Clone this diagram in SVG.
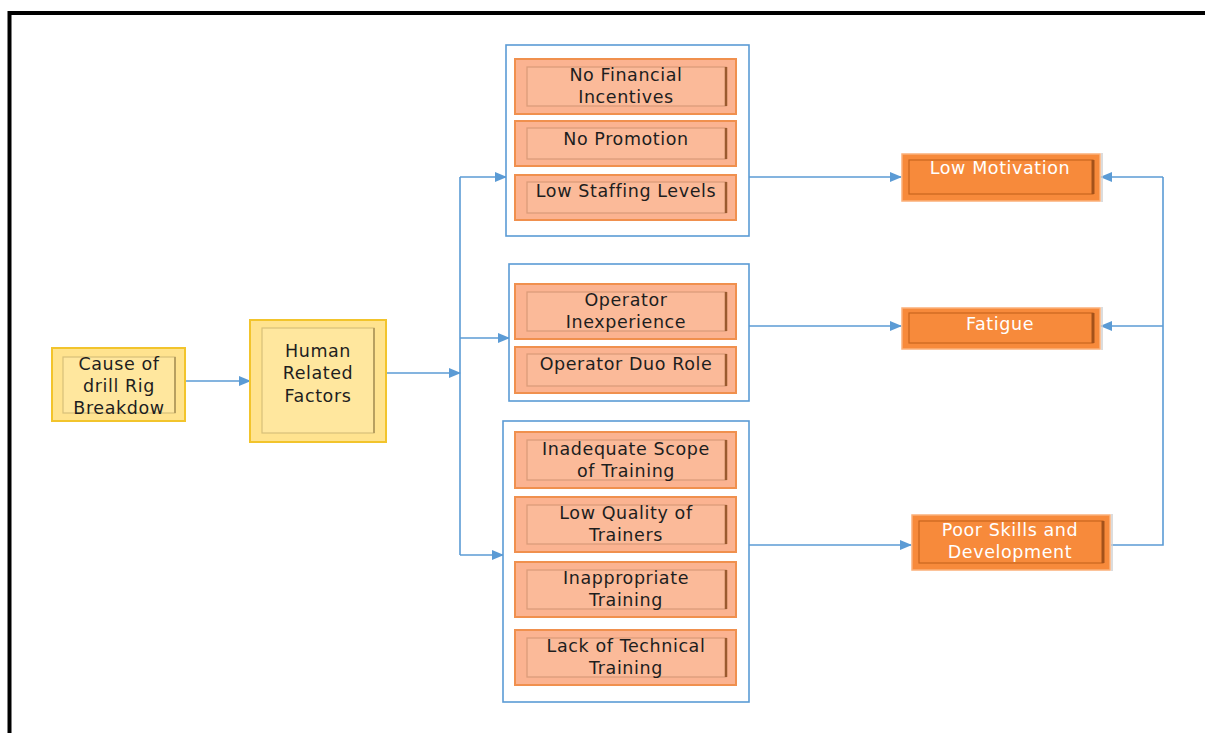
<svg xmlns="http://www.w3.org/2000/svg" width="1205" height="733" viewBox="0 0 1205 733">
<defs>
<marker id="arr" markerWidth="12" markerHeight="10" refX="11" refY="5" orient="auto" markerUnits="userSpaceOnUse">
<path d="M0,0 L12,5 L0,10 Z" fill="#5B9BD5"/>
</marker>
<style>
.frame{fill:none;stroke:#000;stroke-width:4}
.conn{fill:none;stroke:#5B9BD5;stroke-width:1.6}
.grp{fill:#fff;stroke:#5B9BD5;stroke-width:1.6}
.yo{fill:#FFE38F;stroke:#F2C42C;stroke-width:2}
.yi{fill:#FFE79E;stroke:#D8C07A;stroke-width:1.2}
.lo{fill:#FBB391;stroke:#F0904E;stroke-width:2}
.li{fill:#FBBA99;stroke:#D99A78;stroke-width:1.2}
.do{fill:#F78A3B;stroke:#FBB07A;stroke-width:1.5}
.di{fill:#F78A3B;stroke:#C9661F;stroke-width:1.2}
.sh{stroke:#9A5A2E;stroke-width:2.5}
.shd{stroke:#A4521A;stroke-width:3}
.t{font-family:"DejaVu Sans",Verdana,sans-serif;font-size:17.5px;letter-spacing:0.6px;text-anchor:middle;fill:#1e1e1e}
.tw{font-family:"DejaVu Sans",Verdana,sans-serif;font-size:17.5px;letter-spacing:0.6px;text-anchor:middle;fill:#fff}
</style>
</defs>
<rect width="1205" height="733" fill="#fff"/>
<path class="frame" d="M9.5,733 L9.5,13 L1205,13"/>

<g id="connectors">
<line class="conn" x1="185" y1="381" x2="250" y2="381" marker-end="url(#arr)"/>
<line class="conn" x1="386" y1="373" x2="460" y2="373" marker-end="url(#arr)"/>
<line class="conn" x1="460" y1="177" x2="460" y2="555"/>
<line class="conn" x1="460" y1="177" x2="506" y2="177" marker-end="url(#arr)"/>
<line class="conn" x1="460" y1="338" x2="509" y2="338" marker-end="url(#arr)"/>
<line class="conn" x1="460" y1="555" x2="503" y2="555" marker-end="url(#arr)"/>
<line class="conn" x1="749" y1="177" x2="901" y2="177" marker-end="url(#arr)"/>
<line class="conn" x1="749" y1="326" x2="901" y2="326" marker-end="url(#arr)"/>
<line class="conn" x1="749" y1="545" x2="911" y2="545" marker-end="url(#arr)"/>
<path class="conn" d="M1111,545 L1163,545 L1163,177"/>
<line class="conn" x1="1163" y1="177" x2="1101" y2="177" marker-end="url(#arr)"/>
<line class="conn" x1="1163" y1="326" x2="1101" y2="326" marker-end="url(#arr)"/>
</g>

<g id="cause">
<rect class="yo" x="52" y="348" width="133" height="73"/>
<rect class="yi" x="63" y="357" width="112" height="56"/>
<line x1="175" y1="357" x2="175" y2="413" stroke="#B8A060" stroke-width="2"/>
<text class="t" x="119" y="370">Cause of</text>
<text class="t" x="119" y="392">drill Rig</text>
<text class="t" x="119" y="414">Breakdow</text>
</g>

<g id="human">
<rect class="yo" x="250" y="320" width="136" height="122"/>
<rect class="yi" x="262" y="328" width="112" height="105"/>
<line x1="374" y1="328" x2="374" y2="433" stroke="#B8A060" stroke-width="2"/>
<text class="t" x="318" y="357">Human</text>
<text class="t" x="318" y="379">Related</text>
<text class="t" x="318" y="402">Factors</text>
</g>

<g id="group-motivation">
<rect class="grp" x="506" y="45" width="243" height="191"/>
</g>
<g id="group-fatigue">
<rect class="grp" x="509" y="264" width="240" height="137"/>
</g>
<g id="group-skills">
<rect class="grp" x="503" y="421" width="246" height="281"/>
</g>

<g id="no-financial">
<rect class="lo" x="515" y="59" width="221" height="55"/>
<rect class="li" x="527" y="67" width="199" height="39"/>
<line class="sh" x1="726" y1="67" x2="726" y2="106"/>
<text class="t" x="626" y="81">No Financial</text>
<text class="t" x="626" y="103">Incentives</text>
</g>
<g id="no-promotion">
<rect class="lo" x="515" y="121" width="221" height="45"/>
<rect class="li" x="527" y="128" width="199" height="31"/>
<line class="sh" x1="726" y1="128" x2="726" y2="159"/>
<text class="t" x="626" y="145">No Promotion</text>
</g>
<g id="low-staffing">
<rect class="lo" x="515" y="175" width="221" height="45"/>
<rect class="li" x="527" y="182" width="199" height="31"/>
<line class="sh" x1="726" y1="182" x2="726" y2="213"/>
<text class="t" x="626" y="197">Low Staffing Levels</text>
</g>
<g id="operator-inexperience">
<rect class="lo" x="515" y="284" width="221" height="55"/>
<rect class="li" x="527" y="292" width="199" height="39"/>
<line class="sh" x1="726" y1="292" x2="726" y2="331"/>
<text class="t" x="626" y="306">Operator</text>
<text class="t" x="626" y="328">Inexperience</text>
</g>
<g id="operator-duo">
<rect class="lo" x="515" y="347" width="221" height="46"/>
<rect class="li" x="527" y="354" width="199" height="32"/>
<line class="sh" x1="726" y1="354" x2="726" y2="386"/>
<text class="t" x="626" y="370">Operator Duo Role</text>
</g>
<g id="inadequate-scope">
<rect class="lo" x="515" y="432" width="221" height="56"/>
<rect class="li" x="527" y="440" width="199" height="40"/>
<line class="sh" x1="726" y1="440" x2="726" y2="480"/>
<text class="t" x="626" y="455">Inadequate Scope</text>
<text class="t" x="626" y="477">of Training</text>
</g>
<g id="low-quality">
<rect class="lo" x="515" y="497" width="221" height="55"/>
<rect class="li" x="527" y="505" width="199" height="39"/>
<line class="sh" x1="726" y1="505" x2="726" y2="544"/>
<text class="t" x="626" y="519">Low Quality of</text>
<text class="t" x="626" y="541">Trainers</text>
</g>
<g id="inappropriate">
<rect class="lo" x="515" y="562" width="221" height="55"/>
<rect class="li" x="527" y="570" width="199" height="39"/>
<line class="sh" x1="726" y1="570" x2="726" y2="609"/>
<text class="t" x="626" y="584">Inappropriate</text>
<text class="t" x="626" y="606">Training</text>
</g>
<g id="lack-technical">
<rect class="lo" x="515" y="630" width="221" height="55"/>
<rect class="li" x="527" y="638" width="199" height="39"/>
<line class="sh" x1="726" y1="638" x2="726" y2="677"/>
<text class="t" x="626" y="652">Lack of Technical</text>
<text class="t" x="626" y="674">Training</text>
</g>

<g id="low-motivation">
<rect class="do" x="902" y="154" width="198" height="47"/>
<rect class="di" x="909" y="160" width="184" height="34"/>
<line class="shd" x1="1093" y1="160" x2="1093" y2="194"/>
<line x1="1102" y1="153" x2="1102" y2="202" stroke="#D0D0D0" stroke-width="1.5"/>
<text class="tw" x="1000" y="174">Low Motivation</text>
</g>
<g id="fatigue">
<rect class="do" x="902" y="308" width="198" height="41"/>
<rect class="di" x="909" y="313" width="184" height="30"/>
<line class="shd" x1="1093" y1="313" x2="1093" y2="343"/>
<line x1="1102" y1="307" x2="1102" y2="350" stroke="#D0D0D0" stroke-width="1.5"/>
<text class="tw" x="1000" y="330">Fatigue</text>
</g>
<g id="poor-skills">
<rect class="do" x="912" y="515" width="198" height="55"/>
<rect class="di" x="919" y="521" width="184" height="42"/>
<line class="shd" x1="1103" y1="521" x2="1103" y2="563"/>
<line x1="1112" y1="514" x2="1112" y2="571" stroke="#D0D0D0" stroke-width="1.5"/>
<text class="tw" x="1010" y="536">Poor Skills and</text>
<text class="tw" x="1010" y="558">Development</text>
</g>
</svg>
